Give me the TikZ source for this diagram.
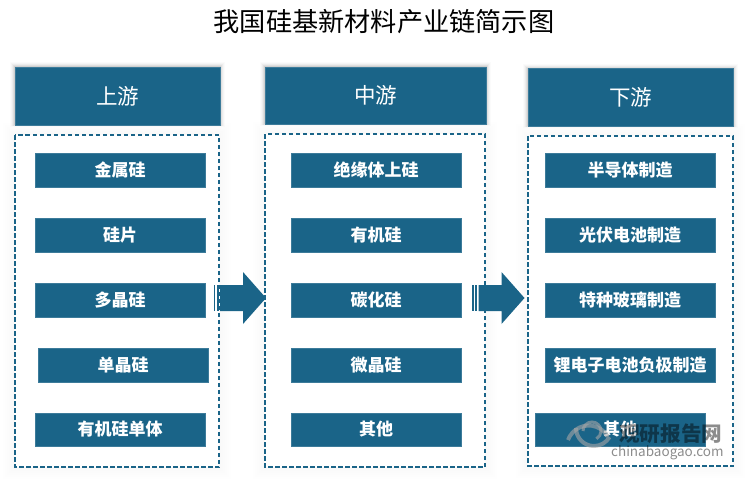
\documentclass[tikz,border=0pt]{standalone}
\usepackage{fontspec}
\setmainfont{Noto Sans CJK SC}
\usetikzlibrary{positioning,calc}
\definecolor{teal1}{HTML}{1A6488}
\tikzset{
  x=1pt,y=-1pt,
  box/.style={draw=teal1!85!white,line width=.5pt,fill=teal1,text=white,minimum width=170pt,minimum height=34pt,inner sep=0pt,font=\bfseries\fontsize{17}{17}\selectfont},
  head/.style={box,minimum height=58pt,font=\fontsize{21.5}{21.5}\selectfont},
  dashbox/.style={draw=teal1,line width=1.1pt,dash pattern=on 4.5pt off 2.5pt,fill=white,inner sep=0pt},
  flow/.style={fill=teal1,draw=none},
  mark1/.style={text=black,opacity=.45,inner sep=0pt}
}
\newcommand{\softrect}[4]{%
  \foreach \g/\o in {5/.015,4/.025,3/.035,2/.05,1/.07}{\fill[black,opacity=\o] (#1-\g,#2-\g) rectangle (#3+\g,#4+\g*0.3);}}
\newcommand{\softdash}[4]{%
  \foreach \g in {2,4,...,12}{\fill[black,opacity=.005] (#1-\g,#2-\g) rectangle (#3+\g,#4+\g);}}
\begin{document}
\begin{tikzpicture}
\useasboundingbox (0,0) rectangle (750,482);
\fill[white] (0,0) rectangle (750,482);
\node[font=\fontsize{26.2}{26.2}\selectfont,text=black,inner sep=0pt] (title) at (384,22) {我国硅基新材料产业链简示图};
% soft shadows
\softdash{15}{135}{219}{467}\softdash{265}{134}{485}{467}\softdash{528}{136}{733}{466}
\softrect{15}{67}{220}{125}\softrect{265}{67}{486}{124}\softrect{528}{69}{733}{126}
% headers
\node[head,minimum width=205pt] (h1) at (117.5,96) {上游};
\node[head,minimum width=221pt,minimum height=57pt] (h2) at (375.5,95.5) {中游};
\node[head,minimum width=205pt] (h3) at (630.5,97.5) {下游};
% dashed frames
\draw[dashbox] (15,135) rectangle (219,467);
\draw[dashbox] (265,134) rectangle (485,467);
\draw[dashbox] (528,136) rectangle (733,466);
% column 1
\node[box] (a1) at (120,170) {金属硅};
\node[box] (a2) at (120,235) {硅片};
\node[box] (a3) at (120,300) {多晶硅};
\node[box] (a4) at (123,365) {单晶硅};
\node[box,minimum height=33pt] (a5) at (120,429.5) {有机硅单体};
% column 2
\node[box] (b1) at (376,170) {绝缘体上硅};
\node[box] (b2) at (376,235) {有机硅};
\node[box] (b3) at (376,300) {碳化硅};
\node[box] (b4) at (376,365) {微晶硅};
\node[box,minimum height=33pt] (b5) at (376,429.5) {其他};
% column 3
\node[box] (c1) at (630,170) {半导体制造};
\node[box] (c2) at (630,235) {光伏电池制造};
\node[box] (c3) at (630,300) {特种玻璃制造};
\node[box] (c4) at (630,365) {锂电子电池负极制造};
\node[box,minimum height=33pt] (c5) at (620,429.5) {其他};
% block arrows
\foreach \ox in {0,258.5}{
  \fill[flow] (\ox+213.5,285) rectangle (\ox+215,311);
  \fill[flow] (\ox+216.5,285) rectangle (\ox+218.5,311);
  \fill[flow] (\ox+220,285) -- (\ox+243,285) -- (\ox+243,272) -- (\ox+266,298) -- (\ox+243,324) -- (\ox+243,311) -- (\ox+220,311) -- cycle;
}
% watermark
\begin{scope}[opacity=.6]
  \draw[black!35,line width=4pt] (576,428) arc[start angle=180,end angle=30,radius=18];
  \draw[black!35,line width=4pt] (568,440) arc[start angle=200,end angle=330,radius=22];
  \draw[black!35,line width=3pt] (583,431) arc[start angle=180,end angle=420,radius=9];
\end{scope}
\node[mark1,font=\bfseries\fontsize{20.6}{20.6}\selectfont,anchor=west] (w1) at (619,434) {观研报告网};
\node[mark1,font=\fontsize{13.5}{13.5}\selectfont,anchor=west] (w2) at (611,453) {chinabaogao.com};
\end{tikzpicture}
\end{document}
